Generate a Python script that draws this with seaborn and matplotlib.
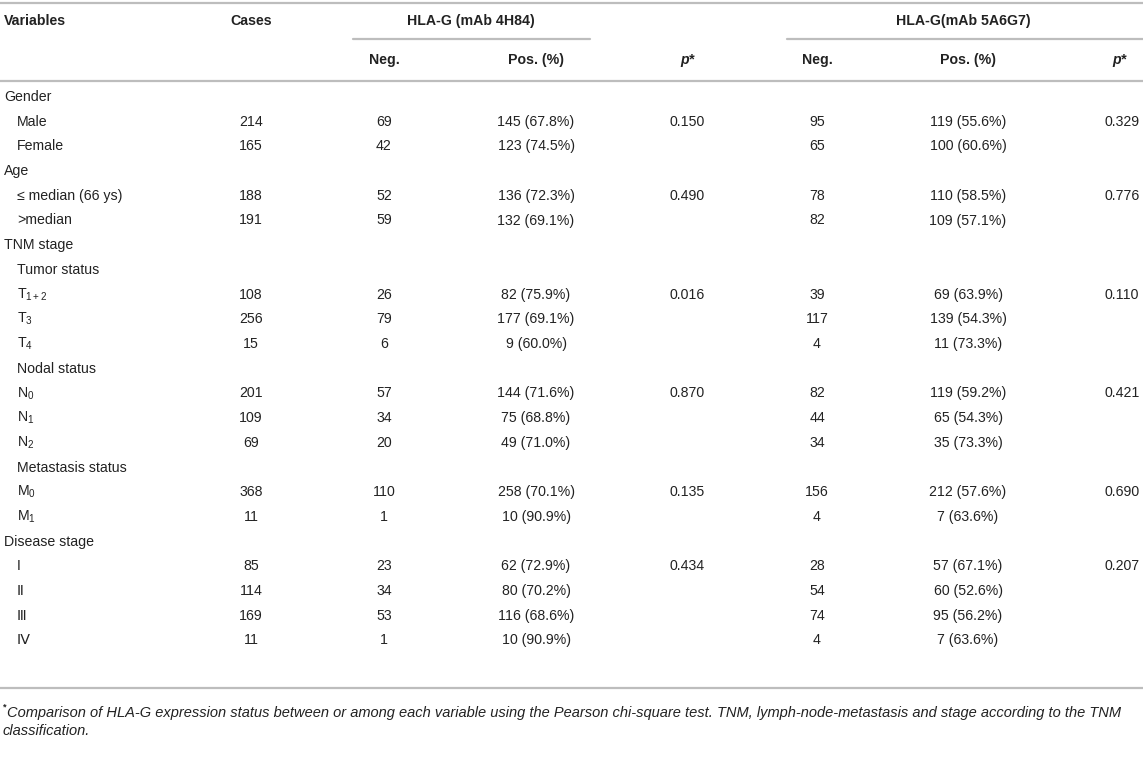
import pandas as pd
import numpy as np
import matplotlib.pyplot as plt
import seaborn as sns

# %%

sns.set_theme(style="white")
plt.rcParams['font.family'] = ['Liberation Sans', 'DejaVu Sans']
plt.rcParams['mathtext.fontset'] = 'custom'
plt.rcParams['mathtext.rm'] = 'Liberation Sans'
plt.rcParams['mathtext.it'] = 'Liberation Sans:italic'

# %%

# table values

labels = ["Gender", "Male", "Female", "Age", "≤ median (66 ys)", ">median",
          "TNM stage", "Tumor status", "T$_{1+2}$", "T$_3$", "T$_4$",
          "Nodal status", "N$_0$", "N$_1$", "N$_2$", "Metastasis status",
          "M$_0$", "M$_1$", "Disease stage", "I", "Ⅱ", "Ⅲ", "Ⅳ"]
level = [0, 1, 1, 0, 1, 1, 0, 1, 1, 1, 1, 1, 1, 1, 1, 1, 1, 1, 0, 1, 1, 1, 1]

cases = ["", "214", "165", "", "188", "191", "", "", "108", "256", "15", "",
         "201", "109", "69", "", "368", "11", "", "85", "114", "169", "11"]
neg_4h84 = ["", "69", "42", "", "52", "59", "", "", "26", "79", "6", "",
            "57", "34", "20", "", "110", "1", "", "23", "34", "53", "1"]
pos_4h84 = ["", "145 (67.8%)", "123 (74.5%)", "", "136 (72.3%)", "132 (69.1%)",
            "", "", "82 (75.9%)", "177 (69.1%)", "9 (60.0%)", "",
            "144 (71.6%)", "75 (68.8%)", "49 (71.0%)", "", "258 (70.1%)",
            "10 (90.9%)", "", "62 (72.9%)", "80 (70.2%)", "116 (68.6%)", "10 (90.9%)"]
p_4h84 = ["", "0.150", "", "", "0.490", "", "", "", "0.016", "", "", "",
          "0.870", "", "", "", "0.135", "", "", "0.434", "", "", ""]
neg_5a6g7 = ["", "95", "65", "", "78", "82", "", "", "39", "117", "4", "",
             "82", "44", "34", "", "156", "4", "", "28", "54", "74", "4"]
pos_5a6g7 = ["", "119 (55.6%)", "100 (60.6%)", "", "110 (58.5%)", "109 (57.1%)",
             "", "", "69 (63.9%)", "139 (54.3%)", "11 (73.3%)", "",
             "119 (59.2%)", "65 (54.3%)", "35 (73.3%)", "", "212 (57.6%)",
             "7 (63.6%)", "", "57 (67.1%)", "60 (52.6%)", "95 (56.2%)", "7 (63.6%)"]
p_5a6g7 = ["", "0.329", "", "", "0.776", "", "", "", "0.110", "", "", "",
           "0.421", "", "", "", "0.690", "", "", "0.207", "", "", ""]

df = pd.DataFrame({
    "label": labels, "level": level, "cases": cases,
    "neg1": neg_4h84, "pos1": pos_4h84, "p1": p_4h84,
    "neg2": neg_5a6g7, "pos2": pos_5a6g7, "p2": p_5a6g7,
})

# %%

fig = plt.figure(figsize=(11.43, 7.6), dpi=100)
ax = fig.add_axes([0, 0, 1, 1])
ax.set_xlim(0, 1143)
ax.set_ylim(760, 0)
ax.axis("off")

txt = "#222222"
line_c = "#bdbdbd"
fs = 10.2

col_x = {"cases": 251, "neg1": 384, "pos1": 536, "p1": 687,
         "neg2": 817, "pos2": 968, "p2": 1122}

# rules
ax.plot([0, 1143], [3, 3], color=line_c, lw=1.6)
ax.plot([353, 590], [39, 39], color=line_c, lw=1.6)
ax.plot([787, 1143], [39, 39], color=line_c, lw=1.6)
ax.plot([0, 1143], [81, 81], color=line_c, lw=1.6)
ax.plot([0, 1143], [688, 688], color=line_c, lw=1.6)

# header
hdr = dict(fontsize=fs, fontweight="bold", color=txt, va="center")
ax.text(4, 21, "Variables", ha="left", **hdr)
ax.text(col_x["cases"], 21, "Cases", ha="center", **hdr)
ax.text(471, 21, "HLA-G (mAb 4H84)", ha="center", **hdr)
ax.text(963, 21, "HLA-G(mAb 5A6G7)", ha="center", **hdr)
ax.text(col_x["neg1"], 60, "Neg.", ha="center", **hdr)
ax.text(col_x["pos1"], 60, "Pos. (%)", ha="center", **hdr)
ax.text(col_x["p1"], 60, "p*", ha="center", fontstyle="italic", **hdr)
ax.text(col_x["neg2"], 60, "Neg.", ha="center", **hdr)
ax.text(col_x["pos2"], 60, "Pos. (%)", ha="center", **hdr)
ax.text(1119, 60, "p*", ha="center", fontstyle="italic", **hdr)

# body
y0, step = 97, 24.7
for i, row in df.iterrows():
    y = y0 + i * step
    ax.text(4 + 13 * row["level"], y, row["label"], ha="left", va="center",
            fontsize=fs, color=txt)
    for col, x in col_x.items():
        if row[col]:
            ax.text(x, y, row[col], ha="center", va="center", fontsize=fs, color=txt)

# footnote
ax.text(3, 707, "*", fontsize=6.5, fontweight="bold", color=txt, ha="left", va="center")
ax.text(7, 713, "Comparison of HLA-G expression status between or among each variable using "
        "the Pearson chi-square test. TNM, lymph-node-metastasis and stage according to the TNM",
        fontsize=10.5, fontstyle="italic", color=txt, ha="left", va="center")
ax.text(3, 731, "classification.", fontsize=10.5, fontstyle="italic", color=txt,
        ha="left", va="center")

plt.savefig("out.png", dpi=100)
